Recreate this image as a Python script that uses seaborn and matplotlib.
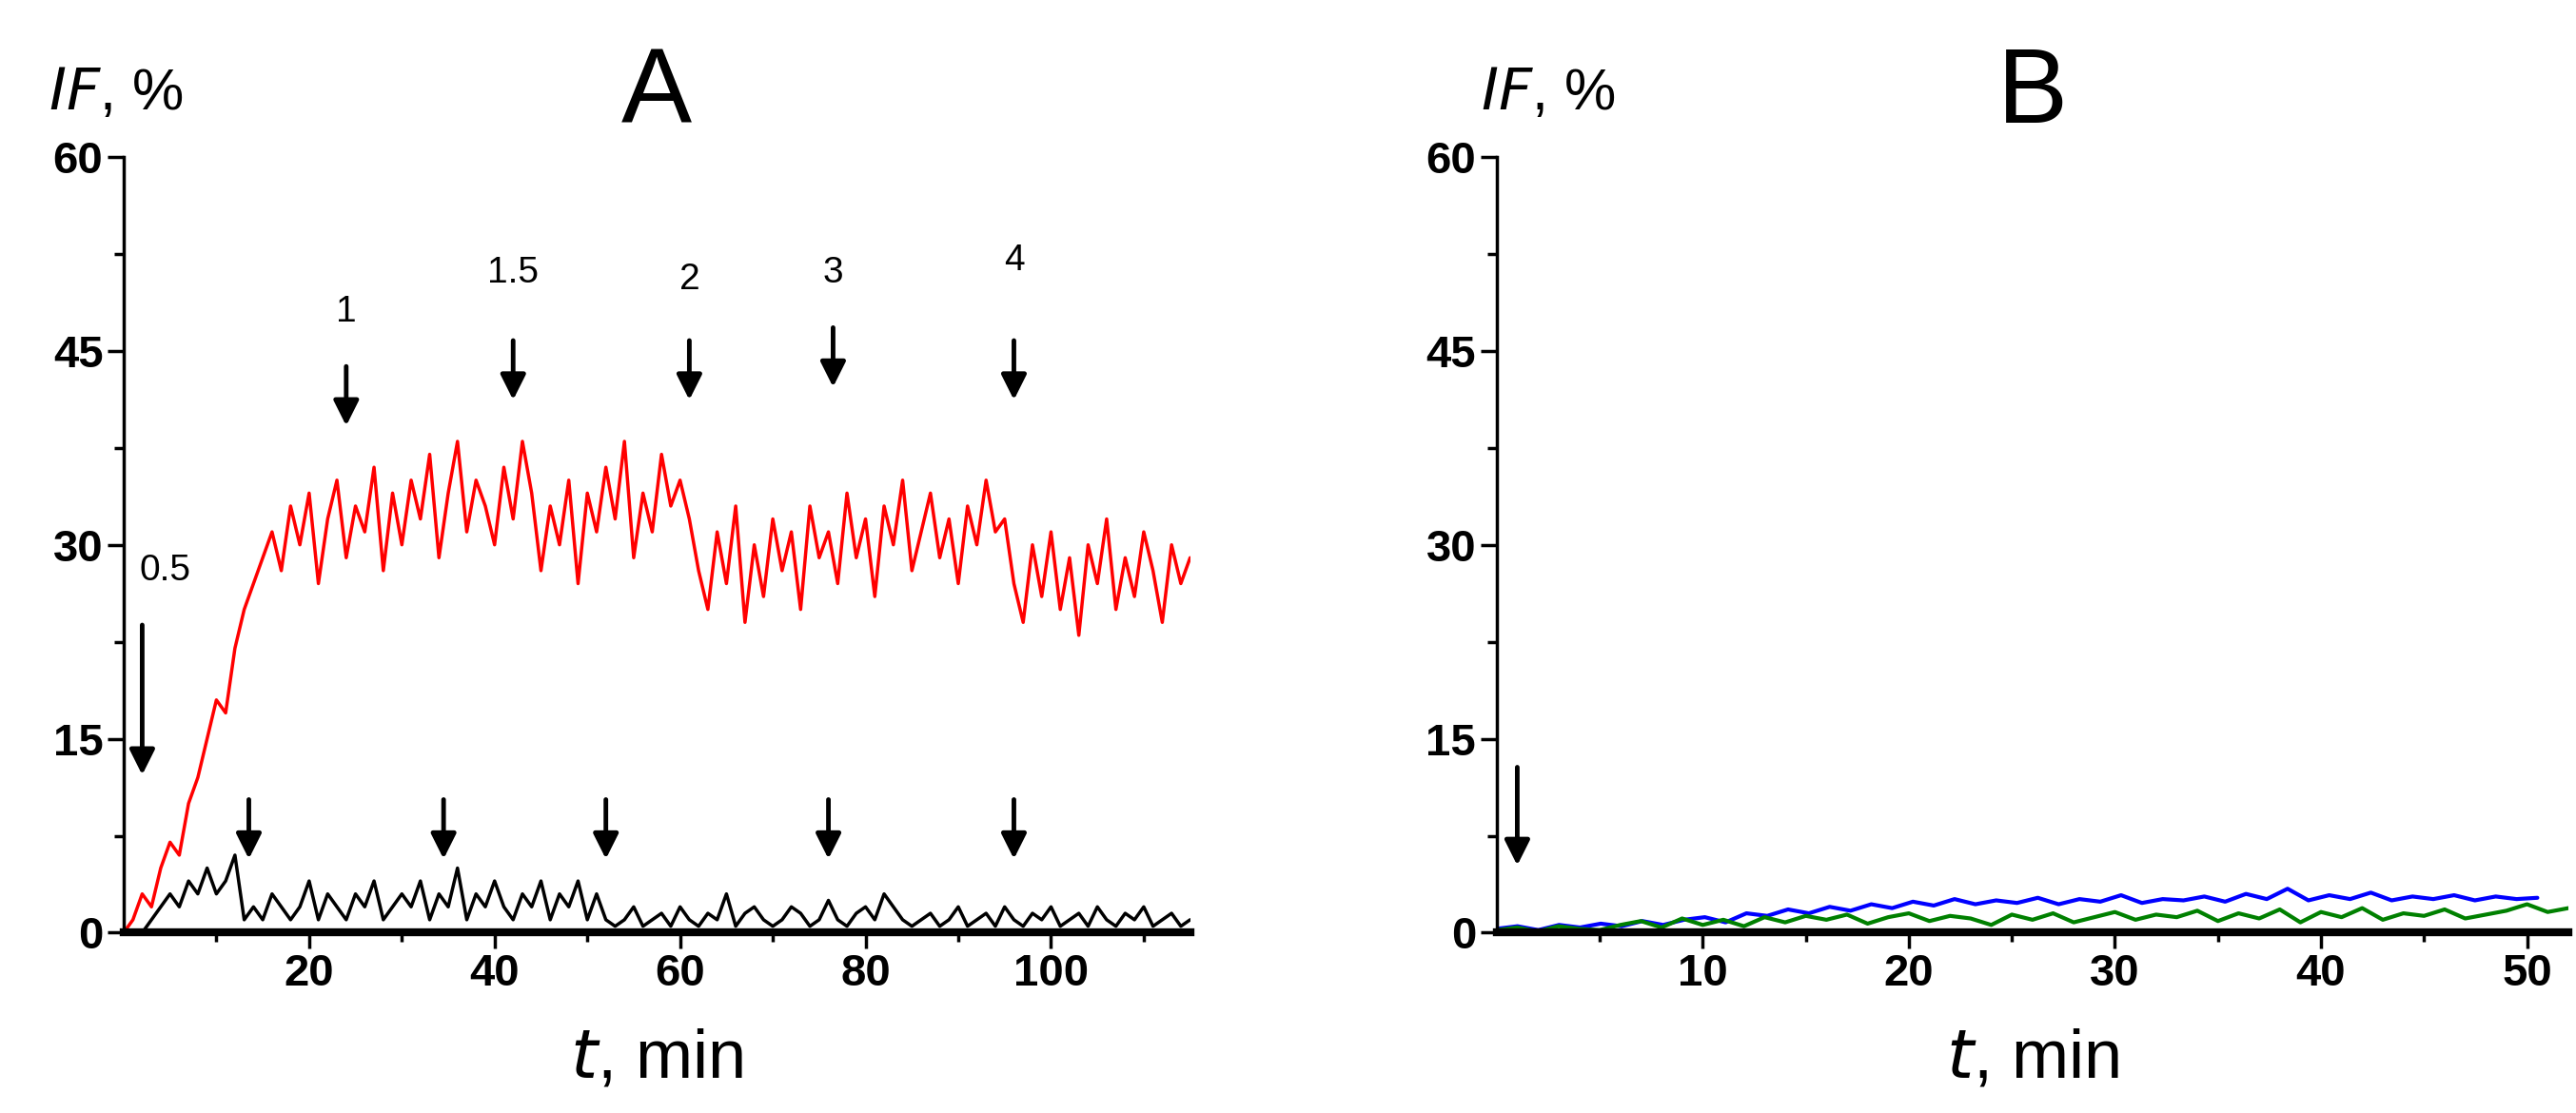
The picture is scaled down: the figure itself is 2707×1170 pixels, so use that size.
import numpy as np
import matplotlib
matplotlib.use("Agg")
import matplotlib.pyplot as plt
import seaborn as sns

# panel A traces, IF (%) sampled evenly over 0..115 min
red_vals = [0, 1, 3, 2, 5, 7, 6, 10, 12, 15, 18, 17, 22, 25, 27, 29,
            31, 28, 33, 30, 34, 27, 32, 35, 29, 33, 31, 36, 28, 34, 30,
            35, 32, 37, 29, 34, 38, 31, 35, 33, 30, 36, 32, 38, 34, 28,
            33, 30, 35, 27, 34, 31, 36, 32, 38, 29, 34, 31, 37, 33, 35, 32,
            28, 25, 31, 27, 33, 24, 30, 26, 32, 28, 31, 25, 33, 29,
            31, 27, 34, 29, 32, 26, 33, 30, 35, 28, 31, 34, 29, 32, 27, 33, 30, 35, 31, 32,
            27, 24, 30, 26, 31, 25, 29, 23, 30, 27, 32, 25, 29, 26, 31, 28, 24, 30, 27, 29]
black_vals = [0, 0, 0, 1, 2, 3, 2, 4, 3, 5, 3, 4, 6,
              1, 2, 1, 3, 2, 1, 2, 4, 1, 3, 2, 1, 3, 2, 4, 1, 2, 3,
              2, 4, 1, 3, 2, 5, 1, 3, 2, 4, 2, 1, 3, 2, 4, 1, 3, 2, 4, 1, 3,
              1, 0.5, 1, 2, 0.5, 1, 1.5, 0.5, 2, 1, 0.5, 1.5, 1, 3, 0.5, 1.5, 2, 1,
              0.5, 1, 2, 1.5, 0.5, 1, 2.5, 1, 0.5, 1.5, 2, 1, 3, 2, 1, 0.5, 1, 1.5,
              0.5, 1, 2, 0.5, 1, 1.5, 0.5, 2, 1, 0.5, 1.5, 1, 2, 0.5, 1, 1.5, 0.5,
              2, 1, 0.5, 1.5, 1, 2, 0.5, 1, 1.5, 0.5, 1]
# panel B traces
blue_vals = [0.3, 0.5, 0.2, 0.6, 0.4, 0.7, 0.5, 0.9, 0.6, 1.0, 1.2, 0.8, 1.5, 1.3, 1.8,
             1.5, 2.0, 1.7, 2.2, 1.9, 2.4, 2.1, 2.6, 2.2, 2.5, 2.3, 2.7, 2.2, 2.6, 2.4,
             2.9, 2.3, 2.6, 2.5, 2.8, 2.4, 3.0, 2.6, 3.4, 2.5, 2.9, 2.6, 3.1, 2.5, 2.8,
             2.6, 2.9, 2.5, 2.8, 2.6, 2.7]
green_vals = [0.2, 0.4, 0.1, 0.5, 0.3, 0.2, 0.6, 0.9, 0.4, 1.1, 0.6, 1.0, 0.5, 1.2, 0.8,
              1.3, 1.0, 1.4, 0.7, 1.2, 1.5, 0.9, 1.3, 1.1, 0.6, 1.4, 1.0, 1.5, 0.8, 1.2,
              1.6, 1.0, 1.4, 1.2, 1.7, 0.9, 1.5, 1.1, 1.8, 0.8, 1.6, 1.2, 1.9, 1.0, 1.5,
              1.3, 1.8, 1.1, 1.4, 1.7, 2.2, 1.6, 1.9]

# arrows: (x, y_start, y_end, label)
red_arrows = [(2, 24, 12, "0.5"), (24, 44, 39, "1"), (42, 46, 41, "1.5"),
              (61, 46, 41, "2"), (76.5, 47, 42, "3"), (96, 46, 41, "4")]
black_arrows = [13.5, 34.5, 52, 76, 96]
label_y = {"0.5": 28, "1": 48, "1.5": 51, "2": 50.5, "3": 51, "4": 52}

sns.set_style("ticks")
plt.rcParams["font.family"] = ["Liberation Sans", "DejaVu Sans"]
plt.rcParams["text.color"] = "black"
plt.rcParams["axes.labelcolor"] = "black"
plt.rcParams["xtick.color"] = "black"
plt.rcParams["ytick.color"] = "black"

fig = plt.figure(figsize=(27.07, 11.7), dpi=100)
axA = fig.add_axes([0.048, 0.162, 0.414, 0.697])
axB = fig.add_axes([0.581, 0.162, 0.416, 0.697])

sns.lineplot(x=np.linspace(0, 115, len(red_vals)), y=red_vals, ax=axA, color="red", lw=2.5)
sns.lineplot(x=np.linspace(0, 115, len(black_vals)), y=black_vals, ax=axA, color="black", lw=2.5)
sns.lineplot(x=np.linspace(0, 50.5, len(blue_vals)), y=blue_vals, ax=axB, color="blue", lw=3)
sns.lineplot(x=np.linspace(0, 52, len(green_vals)), y=green_vals, ax=axB, color="green", lw=3)

arrow = dict(arrowstyle="-|>", lw=3.5, color="black", mutation_scale=40)
for x, y0, y1, lab in red_arrows:
    axA.annotate("", xy=(x, y1), xytext=(x, y0), arrowprops=arrow)
    axA.text(x if lab != "0.5" else x + 2.5, label_y[lab], lab, fontsize=28, ha="center", va="center")
for x in black_arrows:
    axA.annotate("", xy=(x, 5.5), xytext=(x, 10.5), arrowprops=arrow)
axB.annotate("", xy=(1, 5), xytext=(1, 13), arrowprops=arrow)

for ax, xmax, major, minor, letter, if_x in [
        (axA, 115, [20, 40, 60, 80, 100], np.arange(10, 115, 20), "A", -0.07),
        (axB, 52, [10, 20, 30, 40, 50], np.arange(5, 52, 10), "B", -0.015)]:
    ax.set_xlim(0, xmax)
    ax.set_ylim(0, 60)
    ax.set_xticks(major)
    ax.set_xticks(minor, minor=True)
    ax.set_yticks([0, 15, 30, 45, 60])
    ax.set_yticks(np.arange(7.5, 60, 7.5)[::2], minor=True)
    ax.tick_params(axis="both", which="major", labelsize=34, length=12, width=2.5, direction="out")
    ax.tick_params(axis="both", which="minor", length=7, width=2.5, direction="out")
    for lab in ax.get_xticklabels() + ax.get_yticklabels():
        lab.set_fontweight("bold")
    ax.spines["right"].set_visible(False)
    ax.spines["top"].set_visible(False)
    ax.spines["left"].set_linewidth(2.5)
    ax.spines["left"].set_color("black")
    ax.spines["bottom"].set_linewidth(6)
    ax.spines["bottom"].set_color("black")
    ax.set_xlabel("$\\it{t}$, min", fontsize=52, labelpad=25)
    ax.set_ylabel("")
    ax.text(if_x, 1.08, "$\\it{IF}$, %", transform=ax.transAxes, fontsize=44, ha="left", va="center")
    ax.text(0.5, 1.08, letter, transform=ax.transAxes, fontsize=80, ha="center", va="center")

fig.savefig("out.png", dpi=100)
